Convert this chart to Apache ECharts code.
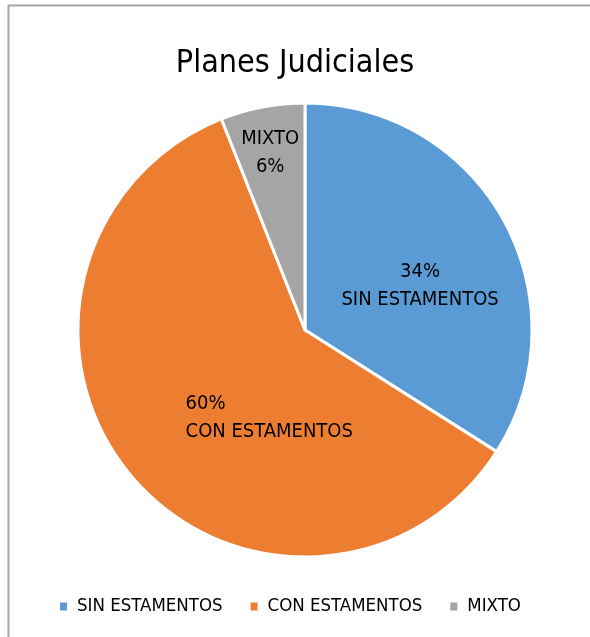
<!DOCTYPE html>
<html>
<head>
<meta charset="utf-8">
<script src="https://cdn.jsdelivr.net/npm/echarts@6/dist/echarts.min.js"></script>
<style>
  html, body { margin: 0; padding: 0; background: #fff; }
  #chart { width: 590px; height: 637px; }
</style>
</head>
<body>
<div id="chart"></div>
<script>
var categories = ['SIN ESTAMENTOS', 'CON ESTAMENTOS', 'MIXTO'];
var values = [34, 60, 6];
var colors = ['#5B9BD5', '#ED7D31', '#A5A5A5'];

var font = '"DejaVu Sans Condensed", "DejaVu Sans", sans-serif';

// label styling per slice (Excel puts them a bit off the default spot)
var labelStyles = [
    { formatter: '{p|{c}%}\n{n|{b}}', offset: [13, 12], align: 'center' },
    { formatter: '{p|{c}%}\n{n|{b}}', offset: [54, 14], align: 'left' },
    { formatter: '{n|{b}}\n{p|{c}%}', offset: [-13, -63], align: 'center' }
];

var chart = echarts.init(document.getElementById('chart'), null, {renderer: 'canvas'});

var pieData = categories.map(function (name, i) {
    var ls = labelStyles[i];
    return {
        name: name,
        value: values[i],
        itemStyle: { color: colors[i] },
        label: {
            formatter: ls.formatter,
            offset: ls.offset,
            rich: {
                p: { align: ls.align, fontFamily: font, fontSize: 20, lineHeight: 28, color: '#000' },
                n: { align: ls.align, fontFamily: font, fontSize: 20, lineHeight: 28, color: '#000' }
            }
        }
    };
});

var option = {
    animation: false,
    textStyle: { fontFamily: font },
    title: {
        text: 'Planes Judiciales',
        left: 'center',
        top: 43,
        textStyle: { fontFamily: font, fontSize: 32, fontWeight: 'normal', color: '#000' }
    },
    legend: {
        data: categories,
        left: 53,
        top: 592,
        itemWidth: 9,
        itemHeight: 10,
        itemGap: 26,
        icon: 'rect',
        selectedMode: false,
        textStyle: { fontFamily: font, fontSize: 18.5, color: '#000', padding: [0, 0, 0, 4] }
    },
    graphic: [
        { type: 'line', shape: { x1: 8.5, y1: 5, x2: 8.5, y2: 637 }, style: { stroke: '#a6a6a6', lineWidth: 2 } },
        { type: 'line', shape: { x1: 8, y1: 5.5, x2: 590, y2: 5.5 }, style: { stroke: '#a6a6a6', lineWidth: 2 } }
    ],
    series: [{
        type: 'pie',
        center: [305, 330],
        radius: 227,
        startAngle: 90,
        clockwise: true,
        silent: true,
        itemStyle: { borderColor: '#fff', borderWidth: 3 },
        label: {
            show: true,
            position: 'inside',
            fontFamily: font,
            fontSize: 20,
            lineHeight: 28,
            color: '#000'
        },
        labelLine: { show: false },
        emphasis: { disabled: true },
        data: pieData
    }]
};

chart.setOption(option);
</script>
</body>
</html>
